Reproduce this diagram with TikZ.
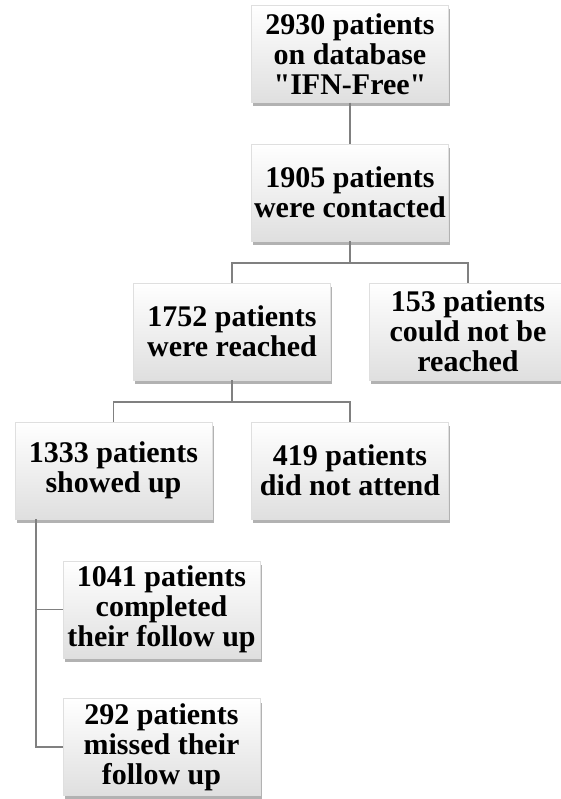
\documentclass[tikz,border=0pt]{standalone}
\usepackage{fontspec}
\setmainfont{Liberation Serif}[Ligatures=TeXOff]
\usetikzlibrary{shadows,calc}
\tikzset{
  box/.style={minimum width=197pt, minimum height=97pt, inner sep=0pt,
    align=center, font=\bfseries\fontsize{30}{30}\selectfont,
    top color=white, bottom color=gray!25, draw=gray!25, line width=0.4pt,
    drop shadow={shadow xshift=1.5pt, shadow yshift=-4pt, fill=black, opacity=0.3}},
  link/.style={draw=gray, line width=1.6pt}
}
\begin{document}
\begin{tikzpicture}[x=1pt,y=-1pt]
\path[use as bounding box, fill=white] (0,0) rectangle (560,799);
\node[box] (A) at (350,54) {2930 patients\\on database\\"IFN-Free"};
\node[box] (B) at (350,192.5) {1905 patients\\were contacted};
\node[box] (C) at (232,331.5) {1752 patients\\were reached};
\node[box] (D) at (468,331.5) {153 patients\\could not be\\reached};
\node[box] (E) at (113.5,470.5) {1333 patients\\showed up};
\node[box] (H) at (350,470.5) {419 patients\\did not attend};
\node[box] (F) at (161.5,609.5) {1041 patients\\completed\\their follow up};
\node[box] (G) at (161.5,747) {292 patients\\missed their\\follow up};
\coordinate (j1) at (350,263);
\coordinate (j2) at (232,402);
\coordinate (ev) at (36,519);
\draw[link] (A) -- (B);
\draw[link] (B) -- (j1);
\draw[link] (C.north) |- (j1) -| (D.north);
\draw[link] (C) -- (j2);
\draw[link] (E.north) |- (j2) -| (H.north);
\draw[link] (ev) |- (F.west);
\draw[link] (ev) |- (G.west);
\end{tikzpicture}
\end{document}
